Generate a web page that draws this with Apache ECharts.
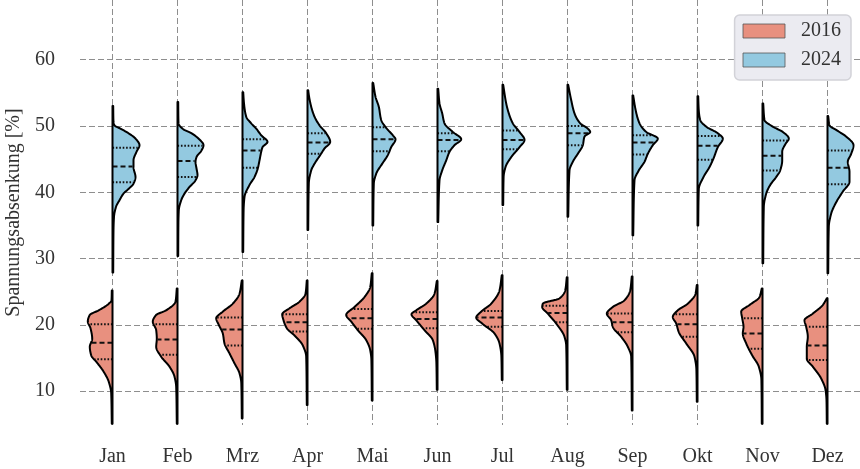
<!DOCTYPE html>
<html>
<head>
<meta charset="utf-8">
<script src="https://cdn.jsdelivr.net/npm/echarts@6/dist/echarts.min.js"></script>
<style>
html,body{margin:0;padding:0;background:#fff;}
#chart{width:860px;height:469px;}
</style>
</head>
<body>
<div id="chart"></div>
<script>
// ---- data ----
const months = ['Jan','Feb','Mrz','Apr','Mai','Jun','Jul','Aug','Sep','Okt','Nov','Dez'];
const years = ['2016','2024'];
const yTicks = [10,20,30,40,50,60];

// density profiles: [value, density] from top to bottom
const profiles2016 = [
  [[25.2,0.7],[23.7,1],[23.2,3.7],[22.2,13.7],[21.5,22.7],[20.5,24.7],[19.5,22],[17.9,20.3],[16.7,22.7],[15.4,21.3],[14.4,16],[12.9,8.7],[11.4,3.7],[9.7,1.3],[5.1,0.7]],
  [[25.5,0.7],[23.5,2],[22.2,11.3],[21.5,21.3],[20.5,24.7],[19.2,21.3],[17.9,20.7],[16.7,21.3],[15.2,16.3],[13.7,8],[12.2,3],[10.6,1.3],[5.1,0.7]],
  [[26.7,0.7],[24.7,3],[23.2,9.7],[22.0,19.7],[21.0,26.3],[20.0,23.7],[18.7,19.7],[17.2,18],[15.7,13],[14.2,8],[12.7,3],[11.2,1.2],[5.9,0.7]],
  [[26.7,0.7],[24.7,2],[23.5,8],[22.5,18],[21.6,25.3],[20.7,24],[19.5,20.7],[18.4,13],[16.9,4.7],[15.2,1.3],[7.9,0.7]],
  [[27.8,0.7],[25.7,2.3],[24.2,8],[22.7,18],[21.5,26.3],[20.5,21.3],[19.2,14.7],[17.7,6.3],[16.2,2.3],[14.7,1.1],[8.6,0.7]],
  [[26.6,0.7],[24.7,3],[23.2,11.3],[22.2,21.3],[21.6,26],[20.7,21.3],[19.2,13],[17.7,4.7],[15.9,2],[14.2,1.1],[10.2,0.7]],
  [[27.5,0.7],[25.2,3],[23.2,11.3],[22.0,21.3],[21.1,26.3],[20.2,20.3],[18.7,8],[17.2,3],[15.2,1.1],[11.7,0.7]],
  [[27.2,0.7],[25.2,2.3],[24.0,8],[23.2,24.7],[22.7,25.3],[21.7,19.7],[20.2,11.3],[18.2,3],[16.9,1.3],[10.2,0.7]],
  [[27.3,0.7],[25.2,2.3],[23.7,8],[22.7,19.7],[21.7,25.7],[20.7,21.3],[19.7,19.7],[18.2,11.3],[16.7,4.7],[15.2,1.3],[7.1,0.7]],
  [[26.0,0.7],[24.7,2],[23.2,9.7],[22.2,19.7],[21.2,24.7],[20.2,21.3],[18.9,18.7],[17.2,11.3],[15.2,3],[13.2,1.1],[8.4,0.7]],
  [[25.5,0.7],[24.2,3],[23.0,13],[22.0,21.3],[21.0,20.3],[19.7,19],[18.7,19.7],[17.2,16.3],[15.4,10.3],[13.7,3.7],[11.7,1.1],[5.1,0.7]],
  [[24.0,0.7],[23.0,4.7],[21.7,14.7],[20.7,23],[19.7,21.3],[18.2,19.7],[16.7,20.7],[14.9,20.7],[13.7,14.7],[11.9,6.3],[10.2,2],[8.6,1],[5.1,0.7]]
];
const profiles2024 = [
  [[53.0,0.7],[50.9,0.9],[50.1,2],[49.6,8],[48.9,16],[48.1,23],[47.1,27],[46.1,24],[44.8,21],[43.8,21],[42.3,23],[41.3,21],[40.5,16],[39.8,11],[38.8,7],[37.8,3.5],[36.3,1.5],[34.3,1],[27.9,0.7]],
  [[53.6,0.7],[50.4,1],[49.6,5],[48.9,14],[48.1,21],[47.1,26],[46.3,24],[45.3,19],[44.6,18],[43.6,19],[42.6,20],[41.8,18],[40.8,12],[39.8,7],[38.8,3.7],[37.3,1.3],[35.3,0.9],[30.4,0.7]],
  [[55.1,0.7],[53.4,1.5],[51.4,3.7],[50.4,8.7],[49.6,13.7],[48.6,18.7],[47.6,25],[46.8,20],[46.1,18.7],[44.8,17],[43.6,15.3],[42.3,12],[41.1,7],[39.3,2],[37.3,1.1],[31.0,0.7]],
  [[55.4,0.7],[54.5,1.5],[52.9,3.7],[51.4,7],[50.1,12],[48.9,18.7],[47.6,22.7],[46.6,17],[45.6,12.7],[44.3,7],[43.3,3.7],[41.3,1.3],[34.3,0.7]],
  [[56.5,0.7],[54.4,3],[52.9,6.3],[50.9,8.7],[49.6,14.3],[48.6,20.3],[48.0,23],[46.8,18.7],[45.6,15.3],[44.3,9.7],[42.8,3.7],[41.3,1.3],[35.0,0.7]],
  [[55.6,0.7],[53.4,2],[51.9,4.7],[50.4,7],[49.1,15.3],[48.0,23.7],[47.1,17],[46.1,12],[44.8,8.7],[43.3,4.7],[41.8,2],[35.5,0.7]],
  [[56.2,0.7],[53.4,3.7],[51.9,6.3],[50.4,10.3],[49.1,17],[47.9,22],[46.8,17],[45.3,8.7],[43.8,3],[42.3,1.1],[38.1,0.7]],
  [[56.2,0.7],[53.9,3.7],[51.9,7],[50.4,12.7],[49.6,20.3],[49.1,22.7],[48.4,17],[47.1,15.3],[45.8,10.3],[44.6,5.3],[43.3,2],[36.3,0.7]],
  [[54.6,0.7],[52.5,3],[50.4,7],[49.1,13.7],[48.1,25.3],[47.1,20.3],[45.8,15.3],[44.6,12],[43.3,6.3],[41.8,2],[33.5,0.7]],
  [[54.5,0.7],[52.5,1.2],[50.9,2.7],[49.9,8.7],[48.9,20.3],[48.1,25.3],[46.8,20.3],[45.1,16],[43.8,12],[42.3,6],[40.5,1.3],[35.0,0.7]],
  [[53.4,0.7],[50.9,2],[49.9,10.3],[49.1,20.3],[48.1,26.3],[47.3,23],[46.1,19.7],[44.8,19.7],[43.3,17.7],[42.3,13.7],[41.1,7.7],[39.8,3.7],[37.8,1.3],[29.3,0.7]],
  [[51.5,0.7],[50.1,2],[49.4,8.7],[48.4,18.7],[47.1,26],[45.8,23.7],[44.6,20.3],[43.1,22],[41.6,22],[40.1,15.3],[38.3,8],[36.8,3.7],[34.8,1.3],[27.8,0.7]]
];
// quartiles: [Q3, median, Q1]
const quartiles2016 = [
  [20.1,17.3,14.8],[20.1,17.8,15.5],[21.1,19.3,16.9],[21.6,20.4,19.0],[22.4,21.0,19.4],[21.9,20.9,19.5],
  [22.1,21.1,19.7],[22.9,21.8,20.4],[21.7,20.4,18.9],[21.6,20.1,18.2],[21.0,18.7,16.4],[19.7,16.9,14.7]
];
const quartiles2024 = [
  [46.7,43.9,41.5],[47.0,44.7,42.3],[48.0,46.3,43.7],[48.9,47.5,45.8],[49.8,48.0,46.2],[48.9,47.9,46.2],
  [49.3,47.9,46.5],[50.0,48.9,47.1],[48.6,47.5,45.7],[48.5,47.0,44.9],[47.8,45.5,43.3],[46.3,43.7,41.2]
];

// ---- rendering helpers ----
const FONT = '"Liberation Serif", "DejaVu Serif", serif';
const densityPerBand = 65; // density units per category band width
const colors = ['#E8907F', '#93C9E0'];

function pchip(xs, ys) {
  const n = xs.length;
  const h = [], d = [], m = new Array(n);
  for (let i = 0; i < n - 1; i++) { h[i] = xs[i+1] - xs[i]; d[i] = (ys[i+1] - ys[i]) / h[i]; }
  m[0] = d[0]; m[n-1] = d[n-2];
  for (let i = 1; i < n - 1; i++) {
    if (d[i-1] * d[i] <= 0) m[i] = 0;
    else {
      const w1 = 2*h[i] + h[i-1], w2 = h[i] + 2*h[i-1];
      m[i] = (w1 + w2) / (w1 / d[i-1] + w2 / d[i]);
    }
  }
  return function (x) {
    if (x <= xs[0]) return ys[0];
    if (x >= xs[n-1]) return ys[n-1];
    let i = 0;
    while (i < n - 2 && x > xs[i+1]) i++;
    const t = (x - xs[i]) / h[i];
    const t2 = t*t, t3 = t2*t;
    return (2*t3 - 3*t2 + 1) * ys[i] + (t3 - 2*t2 + t) * h[i] * m[i] + (-2*t3 + 3*t2) * ys[i+1] + (t3 - t2) * h[i] * m[i+1];
  };
}

function makeRender(profiles, quartiles, sign) {
  return function (params, api) {
    const idx = api.value(0);
    const prof = profiles[idx].slice().reverse();
    const xs = prof.map(p => p[0]), ys = prof.map(p => p[1]);
    const f = pchip(xs, ys);
    const vmin = xs[0], vmax = xs[xs.length - 1];
    const band = api.size([1, 0])[0];
    const k = band / densityPerBand;
    const cx = api.coord([idx, vmin])[0];
    const pts = [];
    pts.push([cx, api.coord([idx, vmax])[1]]);
    const N = 300;
    for (let j = 0; j <= N; j++) {
      const v = vmax - (vmax - vmin) * j / N;
      const w = Math.max(0, f(v));
      pts.push([cx + sign * w * k, api.coord([idx, v])[1]]);
    }
    pts.push([cx, api.coord([idx, vmin])[1]]);
    const children = [{
      type: 'polygon',
      shape: { points: pts },
      style: { fill: colors[sign < 0 ? 0 : 1], stroke: 'none' }
    }];
    quartiles[idx].forEach((q, qi) => {
      const w = Math.max(0, f(q)) * k;
      const y = api.coord([idx, q])[1];
      children.push({
        type: 'line',
        shape: { x1: cx, y1: y, x2: cx + sign * (w - 1), y2: y },
        style: { stroke: '#111', lineWidth: 2, lineDash: qi === 1 ? [5, 3] : [1.6, 1.8] }
      });
    });
    children.push({
      type: 'polygon',
      shape: { points: pts },
      style: { fill: 'none', stroke: '#000', lineWidth: 2, lineJoin: 'round' }
    });
    return { type: 'group', children: children };
  };
}

const chart = echarts.init(document.getElementById('chart'), null, { renderer: 'canvas' });
const gridLine = { show: true, lineStyle: { color: '#8e8e8e', width: 1, type: [6, 3] } };
chart.setOption({
  animation: false,
  backgroundColor: '#ffffff',
  grid: { left: 80, right: 0, top: 0, bottom: 44, containLabel: false, outerBoundsMode: 'none' },
  legend: {
    data: years,
    orient: 'vertical',
    right: 9,
    top: 15,
    icon: 'rect',
    itemWidth: 42,
    itemHeight: 14,
    itemGap: 9,
    padding: [6, 10, 10, 8],
    backgroundColor: '#EBEBF1',
    borderColor: '#D2D2D8',
    borderWidth: 1.5,
    borderRadius: 5,
    itemStyle: { borderColor: '#555', borderWidth: 0.8 },
    textStyle: { fontFamily: FONT, fontSize: 20, lineHeight: 20, color: '#333', padding: [0, 0, 0, 11] }
  },
  xAxis: {
    type: 'value',
    min: -0.5,
    max: 11.5,
    axisLine: { show: false },
    axisTick: { show: false, customValues: months.map((m, i) => i) },
    axisLabel: {
      customValues: months.map((m, i) => i),
      formatter: v => months[Math.round(v)],
      fontFamily: FONT, fontSize: 20, color: '#333', margin: 22
    },
    splitLine: gridLine
  },
  yAxis: {
    type: 'value',
    min: 4.9,
    max: 69.0,
    name: 'Spannungsabsenkung [%]',
    nameLocation: 'middle',
    nameGap: 56,
    nameTextStyle: { fontFamily: FONT, fontSize: 20, color: '#333' },
    axisLine: { show: false },
    axisTick: { show: false, customValues: yTicks },
    axisLabel: { customValues: yTicks, fontFamily: FONT, fontSize: 20, color: '#333', margin: 25 },
    splitLine: gridLine
  },
  series: [
    {
      name: years[0], type: 'custom',
      itemStyle: { color: colors[0] },
      renderItem: makeRender(profiles2016, quartiles2016, -1),
      encode: { x: 0, y: 1 },
      data: months.map((m, i) => [i, quartiles2016[i][1]])
    },
    {
      name: years[1], type: 'custom',
      itemStyle: { color: colors[1] },
      renderItem: makeRender(profiles2024, quartiles2024, 1),
      encode: { x: 0, y: 1 },
      data: months.map((m, i) => [i, quartiles2024[i][1]])
    }
  ]
});
</script>
</body>
</html>
